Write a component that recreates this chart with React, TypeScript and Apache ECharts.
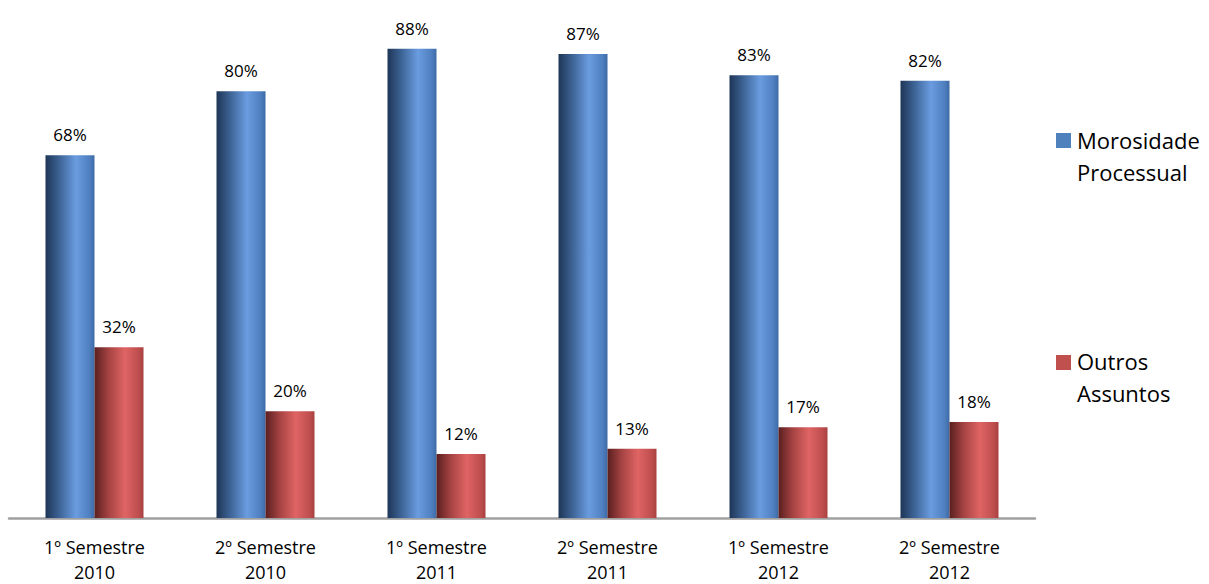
import React, { useEffect, useRef } from "react";
import * as echarts from "echarts";

const categories = [
  "1º Semestre\n2010",
  "2º Semestre\n2010",
  "1º Semestre\n2011",
  "2º Semestre\n2011",
  "1º Semestre\n2012",
  "2º Semestre\n2012",
];
const seriesNames = ["Morosidade\nProcessual", "Outros\nAssuntos"];
const morosidade = [68, 80, 88, 87, 83, 82];
const outros = [32, 20, 12, 13, 17, 18];

const FONT = "'Open Sans', Lato, sans-serif";

const blueGrad = new echarts.graphic.LinearGradient(0, 0, 1, 0, [
  { offset: 0, color: "#1e3556" },
  { offset: 0.3, color: "#3f6699" },
  { offset: 0.62, color: "#6a9ce0" },
  { offset: 0.9, color: "#4f7fbf" },
  { offset: 1, color: "#3d6aa6" },
]);
const redGrad = new echarts.graphic.LinearGradient(0, 0, 1, 0, [
  { offset: 0, color: "#5a1f1f" },
  { offset: 0.3, color: "#a84444" },
  { offset: 0.62, color: "#e06464" },
  { offset: 0.9, color: "#be4e4e" },
  { offset: 1, color: "#a84040" },
]);

export default function App() {
  const ref = useRef<HTMLDivElement>(null);

  useEffect(() => {
    if (!ref.current) return;
    const chart = echarts.init(ref.current, undefined, { renderer: "svg" });
    const label = {
      show: true,
      position: "top" as const,
      distance: 12,
      color: "#000",
      fontFamily: FONT,
      fontSize: 17,
      formatter: (p: any) => p.value + "%",
    };
    chart.setOption({
      animation: false,
      backgroundColor: "#fff",
      grid: { left: 9, right: 174, top: 38, bottom: 57 },
      xAxis: {
        type: "category",
        data: categories,
        axisLine: { lineStyle: { color: "#a0a0a0", width: 2.5 } },
        axisTick: { show: false },
        axisLabel: {
          color: "#000",
          fontFamily: FONT,
          fontSize: 18,
          lineHeight: 25,
          margin: 16,
          interval: 0,
        },
      },
      yAxis: {
        type: "value",
        min: 0,
        max: 90,
        show: false,
        splitLine: { show: false },
      },
      series: [
        {
          name: seriesNames[0],
          type: "bar",
          data: morosidade,
          barWidth: 49,
          barGap: "0%",
          itemStyle: { color: blueGrad },
          label,
        },
        {
          name: seriesNames[1],
          type: "bar",
          data: outros,
          barWidth: 49,
          barGap: "0%",
          itemStyle: { color: redGrad },
          label,
        },
      ],
      graphic: [
        { type: "rect", shape: { x: 1056, y: 133, width: 15, height: 15 }, style: { fill: "#4f81bd" } },
        {
          type: "text",
          x: 1077,
          y: 124,
          style: { text: seriesNames[0], fill: "#000", font: `22px ${FONT}`, lineHeight: 32 },
        },
        { type: "rect", shape: { x: 1056, y: 355, width: 15, height: 15 }, style: { fill: "#c0504d" } },
        {
          type: "text",
          x: 1077,
          y: 345,
          style: { text: seriesNames[1], fill: "#000", font: `22px ${FONT}`, lineHeight: 32 },
        },
      ],
    });
    return () => chart.dispose();
  }, []);

  return <div ref={ref} style={{ width: 1209, height: 584, position: "absolute", left: 0, top: 0 }} />;
}
